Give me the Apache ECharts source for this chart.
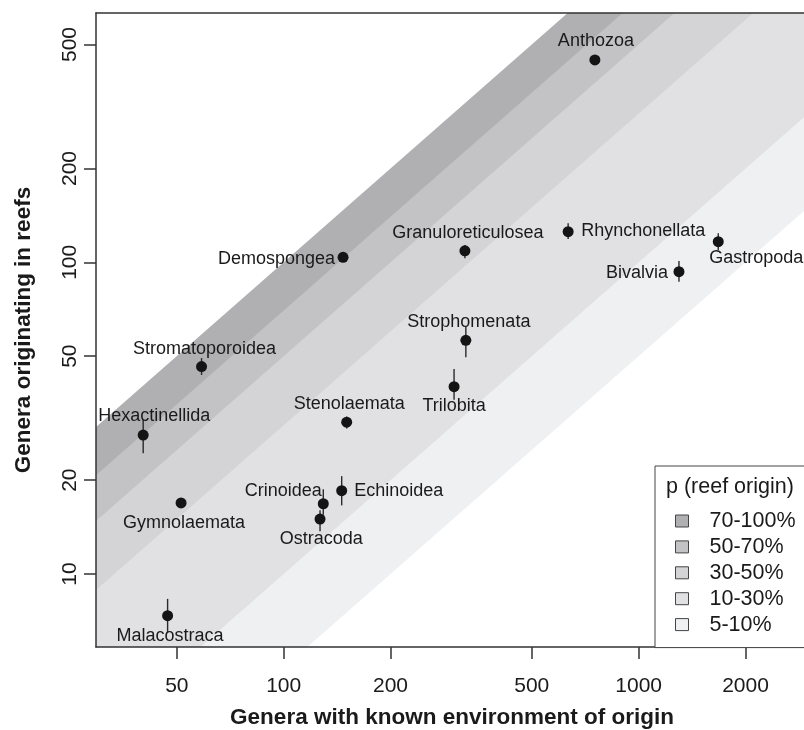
<!DOCTYPE html>
<html>
<head>
<meta charset="utf-8">
<script src="https://cdn.jsdelivr.net/npm/echarts@6/dist/echarts.min.js"></script>
<style>
html,body{margin:0;padding:0;background:#fff;}
#chart{width:804px;height:730px;}
</style>
</head>
<body>
<div id="chart"></div>
<script>
// ---- data ----
const taxa = ['Anthozoa','Demospongea','Granuloreticulosea','Rhynchonellata','Gastropoda','Bivalvia',
  'Strophomenata','Stromatoporoidea','Trilobita','Hexactinellida','Stenolaemata','Gymnolaemata',
  'Crinoidea','Ostracoda','Echinoidea','Malacostraca'];
const generaKnown = [753, 147, 324, 633, 1676, 1299, 326, 58.7, 302, 40.2, 150.5, 51.4, 129.3, 126.6, 145.7, 47.1];
const generaReef  = [446, 103.8, 108.9, 125.4, 116.5, 93.3, 56.2, 46.3, 39.9, 27.9, 30.7, 16.9, 16.8, 15.0, 18.5, 7.35];
const reefLow     = [432, 101, 103.0, 118.8, 109.5, 86.7, 49.6, 43.5, 36.2, 24.4, 29.3, 16.5, 15.5, 13.7, 16.6, 6.51];
const reefHigh    = [461, 107, 113.6, 133.4, 123.9, 101.0, 62.5, 49.3, 45.5, 31.2, 32.0, 17.3, 18.7, 16.0, 20.6, 8.32];
const bandRatios  = [1, 0.7, 0.5, 0.3, 0.1, 0.05];
const bandNames   = ['70-100%', '50-70%', '30-50%', '10-30%', '5-10%'];
const xTicks = [50, 100, 200, 500, 1000, 2000];
const yTicks = [10, 20, 50, 100, 200, 500];
const xRange = [29.6, 3000];
const yRange = [5.83, 631];

// ---- styling / layout ----
const bandColors = ['#b0b0b3', '#c3c3c6', '#d4d4d6', '#e1e1e3', '#eff0f2', '#ffffff'];
const FONT = "'Liberation Sans', Arial, Helvetica, sans-serif";
// label placement: side = anchor side of text, dx/dy offset from point (px)
const labelPlace = {
  Anthozoa: ['center', 1, -19],
  Demospongea: ['right', -8, 2],
  Granuloreticulosea: ['center', 3, -18],
  Rhynchonellata: ['left', 13, -1],
  Gastropoda: ['left', -9, 16],
  Bivalvia: ['right', -11, 1],
  Strophomenata: ['center', 3, -18],
  Stromatoporoidea: ['center', 3, -18],
  Trilobita: ['center', 0, 19],
  Hexactinellida: ['center', 11, -19],
  Stenolaemata: ['center', 2.5, -18],
  Gymnolaemata: ['center', 3, 20.5],
  Crinoidea: ['right', -1.5, -12.5],
  Ostracoda: ['center', 1.3, 19.5],
  Echinoidea: ['left', 12.5, 0],
  Malacostraca: ['center', 2.3, 20.3]
};

const L = Math.log10;
const xMinL = L(xRange[0]), xMaxL = L(xRange[1]);

const bandSeries = bandRatios.map((k, i) => ({
  type: 'line',
  name: bandNames[i] || ('band' + i),
  data: [[xMinL, xMinL + L(k)], [xMaxL, xMaxL + L(k)]],
  showSymbol: false,
  symbol: 'none',
  silent: true,
  lineStyle: { width: 0, opacity: 0 },
  itemStyle: { color: bandColors[i] },
  areaStyle: { origin: 'start', color: bandColors[i], opacity: 1 },
  z: 1,
  animation: false
}));

const scatterData = taxa.map((n, i) => {
  const p = labelPlace[n];
  return {
    name: n,
    value: [L(generaKnown[i]), L(generaReef[i])],
    label: {
      show: true,
      position: 'inside',
      align: p[0],
      verticalAlign: 'middle',
      offset: [p[1], p[2]],
      formatter: n
    }
  };
});

const errData = taxa.map((n, i) => [L(generaKnown[i]), L(reefLow[i]), L(reefHigh[i])]);

const axisColor = '#333';
const chart = echarts.init(document.getElementById('chart'), null, { renderer: 'canvas' });
chart.setOption({
  animation: false,
  backgroundColor: '#ffffff',
  textStyle: { fontFamily: FONT },
  grid: { left: 96, top: 13, right: -4, bottom: 83, containLabel: false, outerBoundsMode: 'none' },
  title: {
    text: 'p (reef origin)',
    left: 666,
    top: 476,
    padding: 0,
    textStyle: { fontFamily: FONT, fontSize: 21.5, fontWeight: 'normal', color: '#1a1a1a' },
    z: 20
  },
  legend: {
    data: bandNames,
    orient: 'vertical',
    left: 655,
    top: 466,
    padding: [44, 60, 12, 20],
    itemGap: 3.9,
    itemWidth: 13,
    itemHeight: 12,
    icon: 'rect',
    selectedMode: false,
    backgroundColor: '#ffffff',
    borderColor: '#444',
    borderWidth: 1,
    itemStyle: { borderColor: '#444', borderWidth: 1 },
    textStyle: { fontFamily: FONT, fontSize: 21.5, color: '#1a1a1a', padding: [0, 0, 0, 16] },
    z: 15
  },
  xAxis: [{
    type: 'value',
    min: xMinL, max: xMaxL,
    position: 'bottom',
    splitLine: { show: false },
    axisLine: { show: true, onZero: false, lineStyle: { color: axisColor, width: 1.5 } },
    axisTick: { show: true, customValues: xTicks.map(L), length: 12, lineStyle: { color: axisColor, width: 1.5 } },
    axisLabel: { customValues: xTicks.map(L), formatter: v => String(Math.round(Math.pow(10, v))),
      fontSize: 21, color: '#1a1a1a', margin: 29, fontFamily: FONT },
    name: 'Genera with known environment of origin',
    nameLocation: 'middle',
    nameGap: 59,
    nameTextStyle: { fontFamily: FONT, fontSize: 22.5, fontWeight: 'bold', color: '#1a1a1a' },
    z: 10
  }, {
    type: 'value',
    min: xMinL, max: xMaxL,
    position: 'top',
    splitLine: { show: false },
    axisLine: { show: true, onZero: false, lineStyle: { color: axisColor, width: 1.5 } },
    axisTick: { show: false },
    axisLabel: { show: false },
    z: 10
  }],
  yAxis: [{
    type: 'value',
    min: L(yRange[0]), max: L(yRange[1]),
    splitLine: { show: false },
    axisLine: { show: true, onZero: false, lineStyle: { color: axisColor, width: 1.5 } },
    axisTick: { show: true, customValues: yTicks.map(L), length: 12, lineStyle: { color: axisColor, width: 1.5 } },
    axisLabel: { customValues: yTicks.map(L), formatter: v => String(Math.round(Math.pow(10, v))),
      rotate: 90, fontSize: 21, color: '#1a1a1a', margin: 15, fontFamily: FONT },
    name: 'Genera originating in reefs',
    nameLocation: 'middle',
    nameGap: 61,
    nameRotate: 90,
    nameTextStyle: { fontFamily: FONT, fontSize: 22.5, fontWeight: 'bold', color: '#1a1a1a' },
    z: 10
  }],
  series: bandSeries.concat([
    {
      type: 'custom',
      name: 'err',
      silent: true,
      z: 5,
      data: errData,
      renderItem: function (params, api) {
        const a = api.coord([api.value(0), api.value(1)]);
        const b = api.coord([api.value(0), api.value(2)]);
        return {
          type: 'line',
          shape: { x1: a[0], y1: a[1], x2: b[0], y2: b[1] },
          style: { stroke: '#2a2a2a', lineWidth: 1.4 }
        };
      }
    },
    {
      type: 'scatter',
      name: 'taxa',
      symbol: 'circle',
      symbolSize: 11,
      itemStyle: { color: '#141414', opacity: 1 },
      label: { fontFamily: FONT, fontSize: 18, color: '#1a1a1a' },
      z: 6,
      silent: true,
      data: scatterData
    }
  ])
});
</script>
</body>
</html>
